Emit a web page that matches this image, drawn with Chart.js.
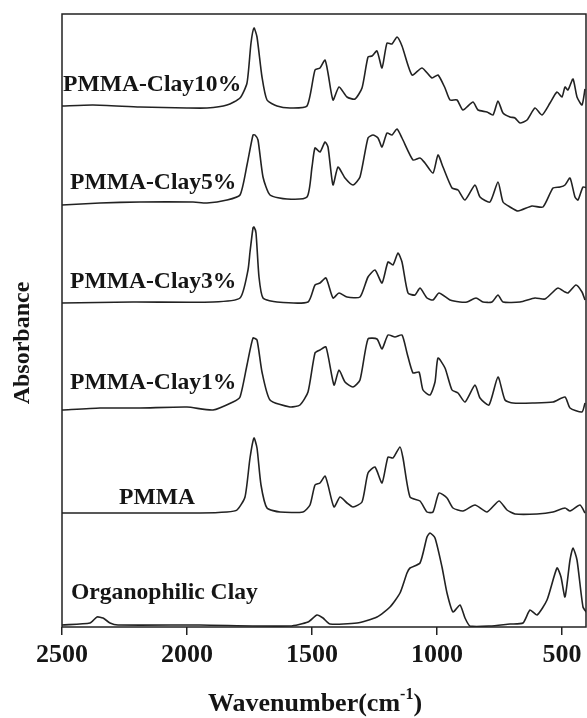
<!DOCTYPE html>
<html>
<head>
<meta charset="utf-8">
<script src="https://cdn.jsdelivr.net/npm/chart.js@4"></script>
<style>
    html, body { margin: 0; padding: 0; background: #fff; }
    #wrap { width: 587px; height: 718px; }
</style>
</head>
<body>
<div id="wrap"><canvas id="ftirChart" width="587" height="718"></canvas></div>
<script>
// FTIR spektrumlari (ust uste kaydirilmis)
const seriesNames = ['PMMA-Clay10%', 'PMMA-Clay5%', 'PMMA-Clay3%', 'PMMA-Clay1%', 'PMMA', 'Organophilic Clay'];
const xTicks = [2500, 2000, 1500, 1000, 500];

const clay10Wn  = [2500, 2376, 2188, 2000, 1920, 1840, 1788, 1760, 1744, 1732, 1720, 1700, 1680, 1640, 1588, 1520, 1488, 1468, 1448, 1436, 1416, 1392, 1360, 1328, 1300, 1276, 1260, 1240, 1220, 1200, 1180, 1160, 1140, 1100, 1060, 1020, 996, 968, 948, 920, 896, 856, 836, 800, 776, 756, 736, 708, 688, 668, 640, 608, 580, 548, 520, 500, 488, 476, 456, 440, 420, 408];
const clay10Abs = [521, 522, 520, 519, 519, 522, 529, 544, 584, 599, 590, 550, 527, 521, 519, 521, 557, 559, 567, 554, 527, 540, 530, 528, 539, 570, 571, 576, 559, 584, 583, 590, 581, 552, 559, 549, 552, 539, 527, 527, 517, 525, 517, 515, 512, 526, 514, 510, 509, 504, 507, 519, 512, 524, 535, 530, 540, 537, 548, 530, 522, 538];

const clay5Wn  = [2500, 2348, 2188, 1976, 1920, 1840, 1788, 1760, 1736, 1728, 1716, 1696, 1668, 1600, 1520, 1500, 1488, 1468, 1448, 1436, 1416, 1396, 1368, 1336, 1308, 1276, 1256, 1236, 1220, 1200, 1180, 1160, 1140, 1096, 1068, 1048, 1016, 996, 976, 940, 916, 888, 848, 828, 788, 756, 736, 708, 676, 620, 576, 536, 508, 488, 468, 448, 436, 416, 400];
const clay5Abs = [422, 424, 425, 425, 424, 427, 432, 462, 492, 492, 487, 450, 432, 428, 430, 460, 479, 475, 485, 480, 442, 460, 449, 442, 450, 489, 492, 489, 480, 494, 492, 498, 489, 467, 469, 464, 454, 472, 460, 439, 437, 427, 442, 430, 425, 445, 425, 420, 416, 421, 420, 439, 440, 442, 449, 430, 427, 440, 439];

const clay3Wn  = [2500, 2216, 1896, 1788, 1756, 1748, 1736, 1732, 1724, 1712, 1696, 1640, 1516, 1488, 1468, 1444, 1416, 1392, 1360, 1308, 1276, 1248, 1220, 1196, 1176, 1156, 1140, 1116, 1088, 1068, 1040, 1016, 992, 948, 908, 880, 844, 816, 780, 756, 736, 668, 608, 568, 536, 516, 488, 476, 444, 420, 408];
const clay3Abs = [324, 325, 325, 329, 357, 375, 399, 400, 394, 350, 329, 325, 325, 342, 344, 349, 329, 334, 330, 330, 350, 357, 344, 365, 362, 374, 365, 334, 332, 339, 329, 327, 334, 327, 325, 325, 329, 325, 325, 332, 325, 325, 329, 328, 335, 339, 335, 334, 342, 335, 327];

const clay1Wn  = [2500, 2348, 2188, 2000, 1896, 1816, 1788, 1760, 1736, 1720, 1700, 1668, 1588, 1548, 1516, 1488, 1468, 1444, 1412, 1392, 1368, 1336, 1308, 1276, 1240, 1220, 1196, 1168, 1140, 1120, 1096, 1072, 1056, 1028, 1008, 996, 968, 940, 916, 888, 848, 828, 792, 756, 728, 696, 616, 536, 488, 468, 420, 408];
const clay1Abs = [217, 219, 219, 220, 217, 225, 230, 262, 289, 287, 255, 227, 220, 222, 235, 274, 277, 280, 242, 257, 245, 240, 247, 288, 288, 278, 292, 290, 292, 274, 254, 255, 237, 232, 245, 269, 259, 237, 234, 225, 242, 229, 222, 250, 227, 224, 224, 225, 230, 219, 215, 224];

const pmmaWn  = [2500, 2216, 1948, 1840, 1800, 1768, 1748, 1732, 1720, 1704, 1680, 1628, 1536, 1508, 1488, 1468, 1448, 1436, 1412, 1388, 1360, 1336, 1300, 1276, 1248, 1220, 1196, 1176, 1148, 1136, 1108, 1068, 1040, 1016, 992, 960, 936, 896, 848, 800, 752, 720, 688, 600, 536, 488, 468, 428, 408];
const pmmaAbs = [114, 114, 114, 115, 117, 130, 169, 189, 179, 142, 119, 115, 115, 122, 142, 144, 151, 142, 120, 130, 124, 120, 125, 154, 160, 144, 170, 169, 180, 169, 130, 126, 115, 115, 134, 129, 119, 116, 122, 115, 126, 117, 113, 113, 115, 119, 116, 122, 114];

const orgClayWn  = [2500, 2388, 2360, 2336, 2308, 2276, 1948, 1588, 1516, 1480, 1456, 1428, 1320, 1240, 1188, 1148, 1120, 1108, 1068, 1040, 1028, 1008, 980, 960, 936, 908, 888, 868, 788, 708, 656, 628, 600, 560, 520, 504, 488, 468, 456, 440, 416, 400];
const orgClayAbs = [2, 4, 10, 9, 4, 2, 2, 1, 5, 12, 9, 3, 4, 10, 20, 34, 54, 59, 64, 90, 94, 89, 60, 34, 15, 22, 9, 1, 1, 3, 4, 17, 12, 27, 59, 50, 30, 67, 79, 67, 20, 14];

const spectra = [
    [clay10Wn, clay10Abs],
    [clay5Wn, clay5Abs],
    [clay3Wn, clay3Abs],
    [clay1Wn, clay1Abs],
    [pmmaWn, pmmaAbs],
    [orgClayWn, orgClayAbs]
];

// Etiket konumlari (piksel, sol kenar ve orta cizgi)
const labelPos = [[63, 85], [70, 183], [70, 282], [70, 383], [119, 498], [71, 593]];

const inkColor = '#151515';
const serif = '"Liberation Serif", "Times New Roman", serif';

const datasets = spectra.map((s, i) => ({
    label: seriesNames[i],
    data: s[0].map((w, j) => ({ x: w, y: s[1][j] })),
    borderColor: '#222',
    borderWidth: 1.6,
    pointRadius: 0,
    tension: 0.2,
    fill: false
}));

// Cerceve, seri etiketleri ve eksen basliklari
const textPlugin = {
    id: 'ftirText',
    afterDraw(chart) {
        const ctx = chart.ctx;
        const a = chart.chartArea;
        ctx.save();
        ctx.strokeStyle = '#222';
        ctx.lineWidth = 1.5;
        ctx.strokeRect(a.left, a.top, a.right - a.left, a.bottom - a.top);

        ctx.fillStyle = inkColor;
        ctx.font = 'bold 23.6px ' + serif;
        ctx.textBaseline = 'middle';
        ctx.textAlign = 'left';
        seriesNames.forEach((name, i) => {
            ctx.fillText(name, labelPos[i][0], labelPos[i][1]);
        });

        // x ekseni basligi (ustsimge ile)
        const main = 'Wavenumber(cm';
        const sup = '-1';
        const tail = ')';
        ctx.font = 'bold 26px ' + serif;
        const wMain = ctx.measureText(main).width;
        const wTail = ctx.measureText(tail).width;
        ctx.font = 'bold 16px ' + serif;
        const wSup = ctx.measureText(sup).width;
        let x = 315 - (wMain + wSup + wTail) / 2;
        const y = 704;
        ctx.font = 'bold 26px ' + serif;
        ctx.fillText(main, x, y);
        x += wMain;
        ctx.font = 'bold 16px ' + serif;
        ctx.fillText(sup, x, y - 9);
        x += wSup;
        ctx.font = 'bold 26px ' + serif;
        ctx.fillText(tail, x, y);

        // y ekseni basligi
        ctx.font = 'bold 24px ' + serif;
        ctx.translate(23, 343);
        ctx.rotate(-Math.PI / 2);
        ctx.textAlign = 'center';
        ctx.fillText('Absorbance', 0, 0);
        ctx.restore();
    }
};

const ctx = document.getElementById('ftirChart').getContext('2d');
const ftirChart = new Chart(ctx, {
    type: 'line',
    data: { datasets: datasets },
    options: {
        responsive: false,
        animation: false,
        devicePixelRatio: 1,
        layout: { padding: { top: 14, right: 1, left: 0, bottom: 0 } },
        plugins: {
            legend: { display: false },
            tooltip: { enabled: false }
        },
        scales: {
            x: {
                type: 'linear',
                reverse: true,
                min: 404,
                max: 2500,
                afterBuildTicks: scale => {
                    scale.ticks = xTicks.map(v => ({ value: v }));
                },
                afterFit: scale => { scale.height = 91; },
                grid: { drawOnChartArea: false, drawTicks: true, tickLength: 8, color: '#222', lineWidth: 1.5 },
                border: { display: false },
                ticks: {
                    autoSkip: false,
                    maxRotation: 0,
                    padding: 5,
                    color: inkColor,
                    font: { family: serif, size: 26, weight: 'bold' },
                    callback: value => String(value)
                }
            },
            y: {
                min: 0,
                max: 613,
                afterFit: scale => { scale.width = 62; },
                grid: { display: false },
                border: { display: false },
                ticks: { display: false }
            }
        }
    },
    plugins: [textPlugin]
});
</script>
</body>
</html>
